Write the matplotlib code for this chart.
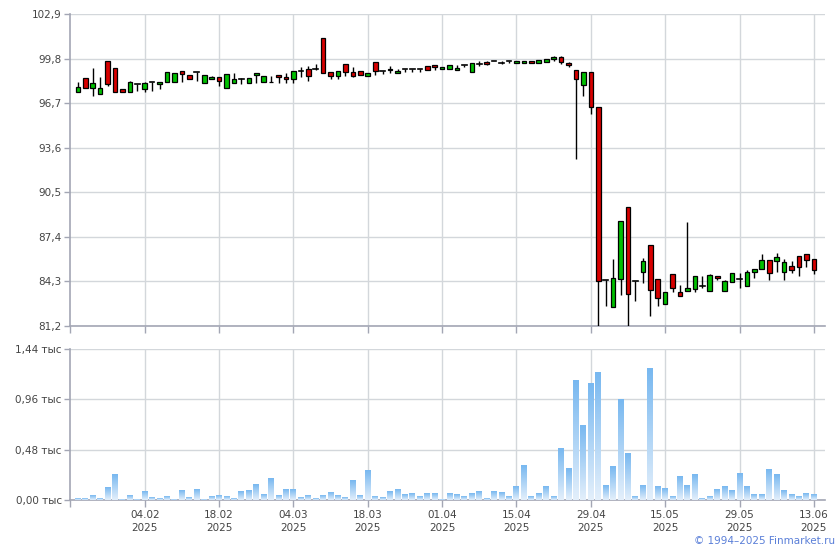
import numpy as np
import matplotlib
matplotlib.use("Agg")
import matplotlib.pyplot as plt
from matplotlib.colors import LinearSegmentedColormap

# OHLC по торговым дням
opens = [97.46, 98.43, 97.73, 97.32, 99.61, 99.12, 97.66, 97.45, 98.01, 97.71,
         98.15, 98.04, 98.15, 98.20, 98.92, 98.64, 98.89, 98.08, 98.36, 98.50,
         97.78, 98.08, 98.36, 98.08, 98.64, 98.15, 98.15, 98.64, 98.50, 98.36,
         98.92, 99.06, 99.06, 101.21, 98.85, 98.62, 99.40, 98.85, 98.92, 98.57,
         99.54, 98.92, 99.00, 98.78, 99.06, 99.06, 99.06, 99.26, 99.33, 99.06,
         99.06, 98.98, 99.33, 98.85, 99.40, 99.54, 99.61, 99.47, 99.61, 99.47,
         99.47, 99.61, 99.47, 99.54, 99.75, 99.89, 99.47, 98.98, 97.94, 98.84,
         96.46, 84.38, 82.55, 84.50, 89.46, 84.31, 84.94, 86.82, 84.45, 82.70,
         84.81, 83.56, 83.60, 83.75, 83.96, 83.66, 84.68, 83.64, 84.24, 84.45,
         83.96, 84.94, 85.19, 85.79, 85.70, 84.94, 85.38, 86.05, 86.21, 85.86]
highs = [98.15, 98.43, 99.12, 98.50, 99.61, 99.12, 97.66, 98.22, 98.01, 98.15,
         98.15, 98.15, 98.85, 98.78, 98.92, 98.64, 98.89, 98.64, 98.57, 98.50,
         98.71, 98.78, 98.43, 98.43, 98.78, 98.57, 98.57, 98.64, 98.78, 98.92,
         99.19, 99.26, 99.40, 101.21, 98.85, 98.92, 99.40, 99.19, 98.92, 98.78,
         99.54, 98.92, 99.26, 99.06, 99.06, 99.06, 99.06, 99.26, 99.33, 99.19,
         99.33, 99.33, 99.33, 99.47, 99.61, 99.61, 99.61, 99.61, 99.61, 99.61,
         99.61, 99.61, 99.68, 99.75, 99.96, 99.96, 99.54, 98.98, 98.84, 98.90,
         96.46, 84.38, 85.84, 88.48, 89.46, 84.31, 85.92, 86.82, 84.45, 83.56,
         84.81, 84.04, 88.42, 84.67, 84.68, 84.82, 84.68, 84.40, 84.89, 84.87,
         85.10, 85.15, 86.21, 85.79, 86.28, 85.86, 85.72, 86.05, 86.21, 85.86]
lows = [97.45, 97.73, 97.22, 97.32, 97.92, 97.45, 97.50, 97.45, 97.57, 97.50,
        97.57, 97.71, 98.15, 98.20, 98.15, 98.36, 98.27, 98.08, 98.36, 97.92,
        97.78, 98.08, 98.06, 98.08, 98.08, 98.15, 98.15, 98.08, 98.13, 98.13,
        98.50, 98.27, 98.98, 98.78, 98.41, 98.41, 98.62, 98.50, 98.64, 98.57,
        98.64, 98.71, 98.78, 98.78, 98.85, 98.85, 98.85, 98.98, 98.98, 99.06,
        99.06, 98.98, 99.19, 98.85, 99.26, 99.33, 99.61, 99.40, 99.47, 99.47,
        99.47, 99.47, 99.47, 99.54, 99.61, 99.40, 99.19, 92.79, 97.22, 95.92,
        81.10, 82.62, 82.55, 83.38, 81.10, 82.96, 84.22, 81.92, 82.60, 82.70,
        83.59, 83.31, 83.60, 83.56, 83.85, 83.66, 84.38, 83.64, 84.24, 83.87,
        83.96, 84.56, 85.19, 84.40, 84.98, 84.43, 84.91, 84.66, 85.31, 84.80]
closes = [97.80, 97.73, 98.08, 97.73, 98.01, 97.45, 97.50, 98.15, 98.01, 98.08,
          98.15, 98.15, 98.85, 98.78, 98.71, 98.36, 98.89, 98.64, 98.50, 98.27,
          98.71, 98.36, 98.36, 98.43, 98.78, 98.57, 98.18, 98.50, 98.36, 98.92,
          98.92, 98.57, 99.06, 98.78, 98.62, 98.92, 98.85, 98.57, 98.64, 98.78,
          98.92, 98.92, 99.06, 98.92, 99.06, 99.06, 99.06, 98.98, 99.19, 99.19,
          99.33, 99.12, 99.33, 99.47, 99.40, 99.40, 99.61, 99.47, 99.61, 99.61,
          99.61, 99.47, 99.68, 99.75, 99.89, 99.54, 99.33, 98.36, 98.84, 96.46,
          84.31, 84.38, 84.52, 88.48, 83.45, 84.31, 85.72, 83.68, 83.12, 83.56,
          83.81, 83.31, 83.82, 84.67, 83.96, 84.75, 84.54, 84.33, 84.89, 84.45,
          84.96, 85.15, 85.79, 84.87, 86.00, 85.63, 85.08, 85.28, 85.77, 85.12]
# объём, тыс.
volumes = [0.019, 0.019, 0.047, 0.019, 0.123, 0.246, 0.009, 0.047, 0.009, 0.085,
           0.028, 0.019, 0.038, 0.009, 0.095, 0.028, 0.104, 0.009, 0.038, 0.047,
           0.038, 0.019, 0.085, 0.095, 0.152, 0.057, 0.208, 0.047, 0.104, 0.104,
           0.028, 0.047, 0.019, 0.047, 0.076, 0.047, 0.028, 0.189, 0.047, 0.284,
           0.038, 0.028, 0.085, 0.104, 0.057, 0.066, 0.038, 0.066, 0.066, 0.009,
           0.066, 0.057, 0.029, 0.058, 0.077, 0.019, 0.077, 0.067, 0.038, 0.125,
           0.326, 0.029, 0.058, 0.125, 0.038, 0.489, 0.297, 1.141, 0.709, 1.112,
           1.217, 0.134, 0.316, 0.958, 0.441, 0.038, 0.134, 1.256, 0.125, 0.105,
           0.029, 0.220, 0.134, 0.240, 0.010, 0.038, 0.096, 0.125, 0.086, 0.249,
           0.125, 0.048, 0.048, 0.288, 0.240, 0.086, 0.048, 0.038, 0.058, 0.048]

tick_labels = ["04.02\n2025", "18.02\n2025", "04.03\n2025", "18.03\n2025", "01.04\n2025",
               "15.04\n2025", "29.04\n2025", "15.05\n2025", "29.05\n2025", "13.06\n2025"]
price_ticks = [81.2, 84.3, 87.4, 90.5, 93.6, 96.7, 99.8, 102.9]
vol_ticks = [0.0, 0.48, 0.96, 1.44]

RED = "#d80000"
GREEN = "#00c000"
GRID = "#d3d7db"
SPINE = "#a3a6b4"
TXT = "#444444"

plt.rcParams['font.family'] = ['DejaVu Sans']

fig = plt.figure(figsize=(8.4, 5.5), dpi=100)
ax1 = fig.add_axes([70 / 840, 1 - 326 / 550, 755 / 840, 312 / 550])
ax2 = fig.add_axes([70 / 840, 1 - 500 / 550, 755 / 840, 151 / 550])

n = len(opens)
xlim = (-1.05, 100.5)
tick_pos = list(range(9, n, 10))

# свечи
bw = 0.62
for i in range(n):
    o, h, l, c = opens[i], highs[i], lows[i], closes[i]
    ax1.plot([i, i], [l, h], color="black", lw=1, zorder=3, solid_capstyle="butt")
    if abs(c - o) < 0.02:
        ax1.plot([i - bw / 2, i + bw / 2], [o, o], color="black", lw=1.2, zorder=4)
    else:
        col = GREEN if c > o else RED
        ax1.bar(i, abs(c - o), bottom=min(o, c), width=bw, color=col,
                edgecolor="black", linewidth=0.9, zorder=4)

ax1.set_xlim(*xlim)
ax1.set_ylim(81.2, 102.9)
ax1.set_yticks(price_ticks)
ax1.set_yticklabels([f"{v:.1f}".replace(".", ",") for v in price_ticks])
ax1.set_xticks(tick_pos)
ax1.set_xticklabels([])
ax1.set_xticks([xlim[0]], minor=True)

# объёмы с градиентом
cmap = LinearSegmentedColormap.from_list("vol", ["#e3effb", "#78b8f0"])
grad = np.linspace(0, 1, 64).reshape(-1, 1)
vw = 0.8
for i in range(n):
    ax2.imshow(grad, extent=[i - vw / 2, i + vw / 2, 0, volumes[i]], aspect="auto",
               cmap=cmap, origin="lower", zorder=3, interpolation="bilinear")

ax2.set_xlim(*xlim)
ax2.set_ylim(0, 1.44)
ax2.set_yticks(vol_ticks)
ax2.set_yticklabels([f"{v:.2f}".replace(".", ",") + " тыс" for v in vol_ticks])
ax2.set_xticks(tick_pos)
ax2.set_xticklabels(tick_labels)
ax2.set_xticks([xlim[0]], minor=True)

for ax in (ax1, ax2):
    ax.set_facecolor("white")
    ax.grid(True, color=GRID, lw=1, zorder=0)
    ax.set_axisbelow(True)
    for s in ("top", "right"):
        ax.spines[s].set_visible(False)
    for s in ("left", "bottom"):
        ax.spines[s].set_color(SPINE)
        ax.spines[s].set_linewidth(1.2)
    ax.tick_params(axis="both", which="both", colors=SPINE, labelcolor=TXT,
                   labelsize=7.5, length=5, width=1)
    ax.tick_params(axis="y", length=4, pad=2)
    ax.tick_params(axis="x", pad=2)

for lab in ax2.get_xticklabels():
    lab.set_linespacing(1.35)

fig.text(0.994, 0.016, "© 1994–2025 Finmarket.ru", ha="right", va="center",
         color="#5a7fd8", fontsize=7.5)

fig.savefig("out.png", dpi=100)
